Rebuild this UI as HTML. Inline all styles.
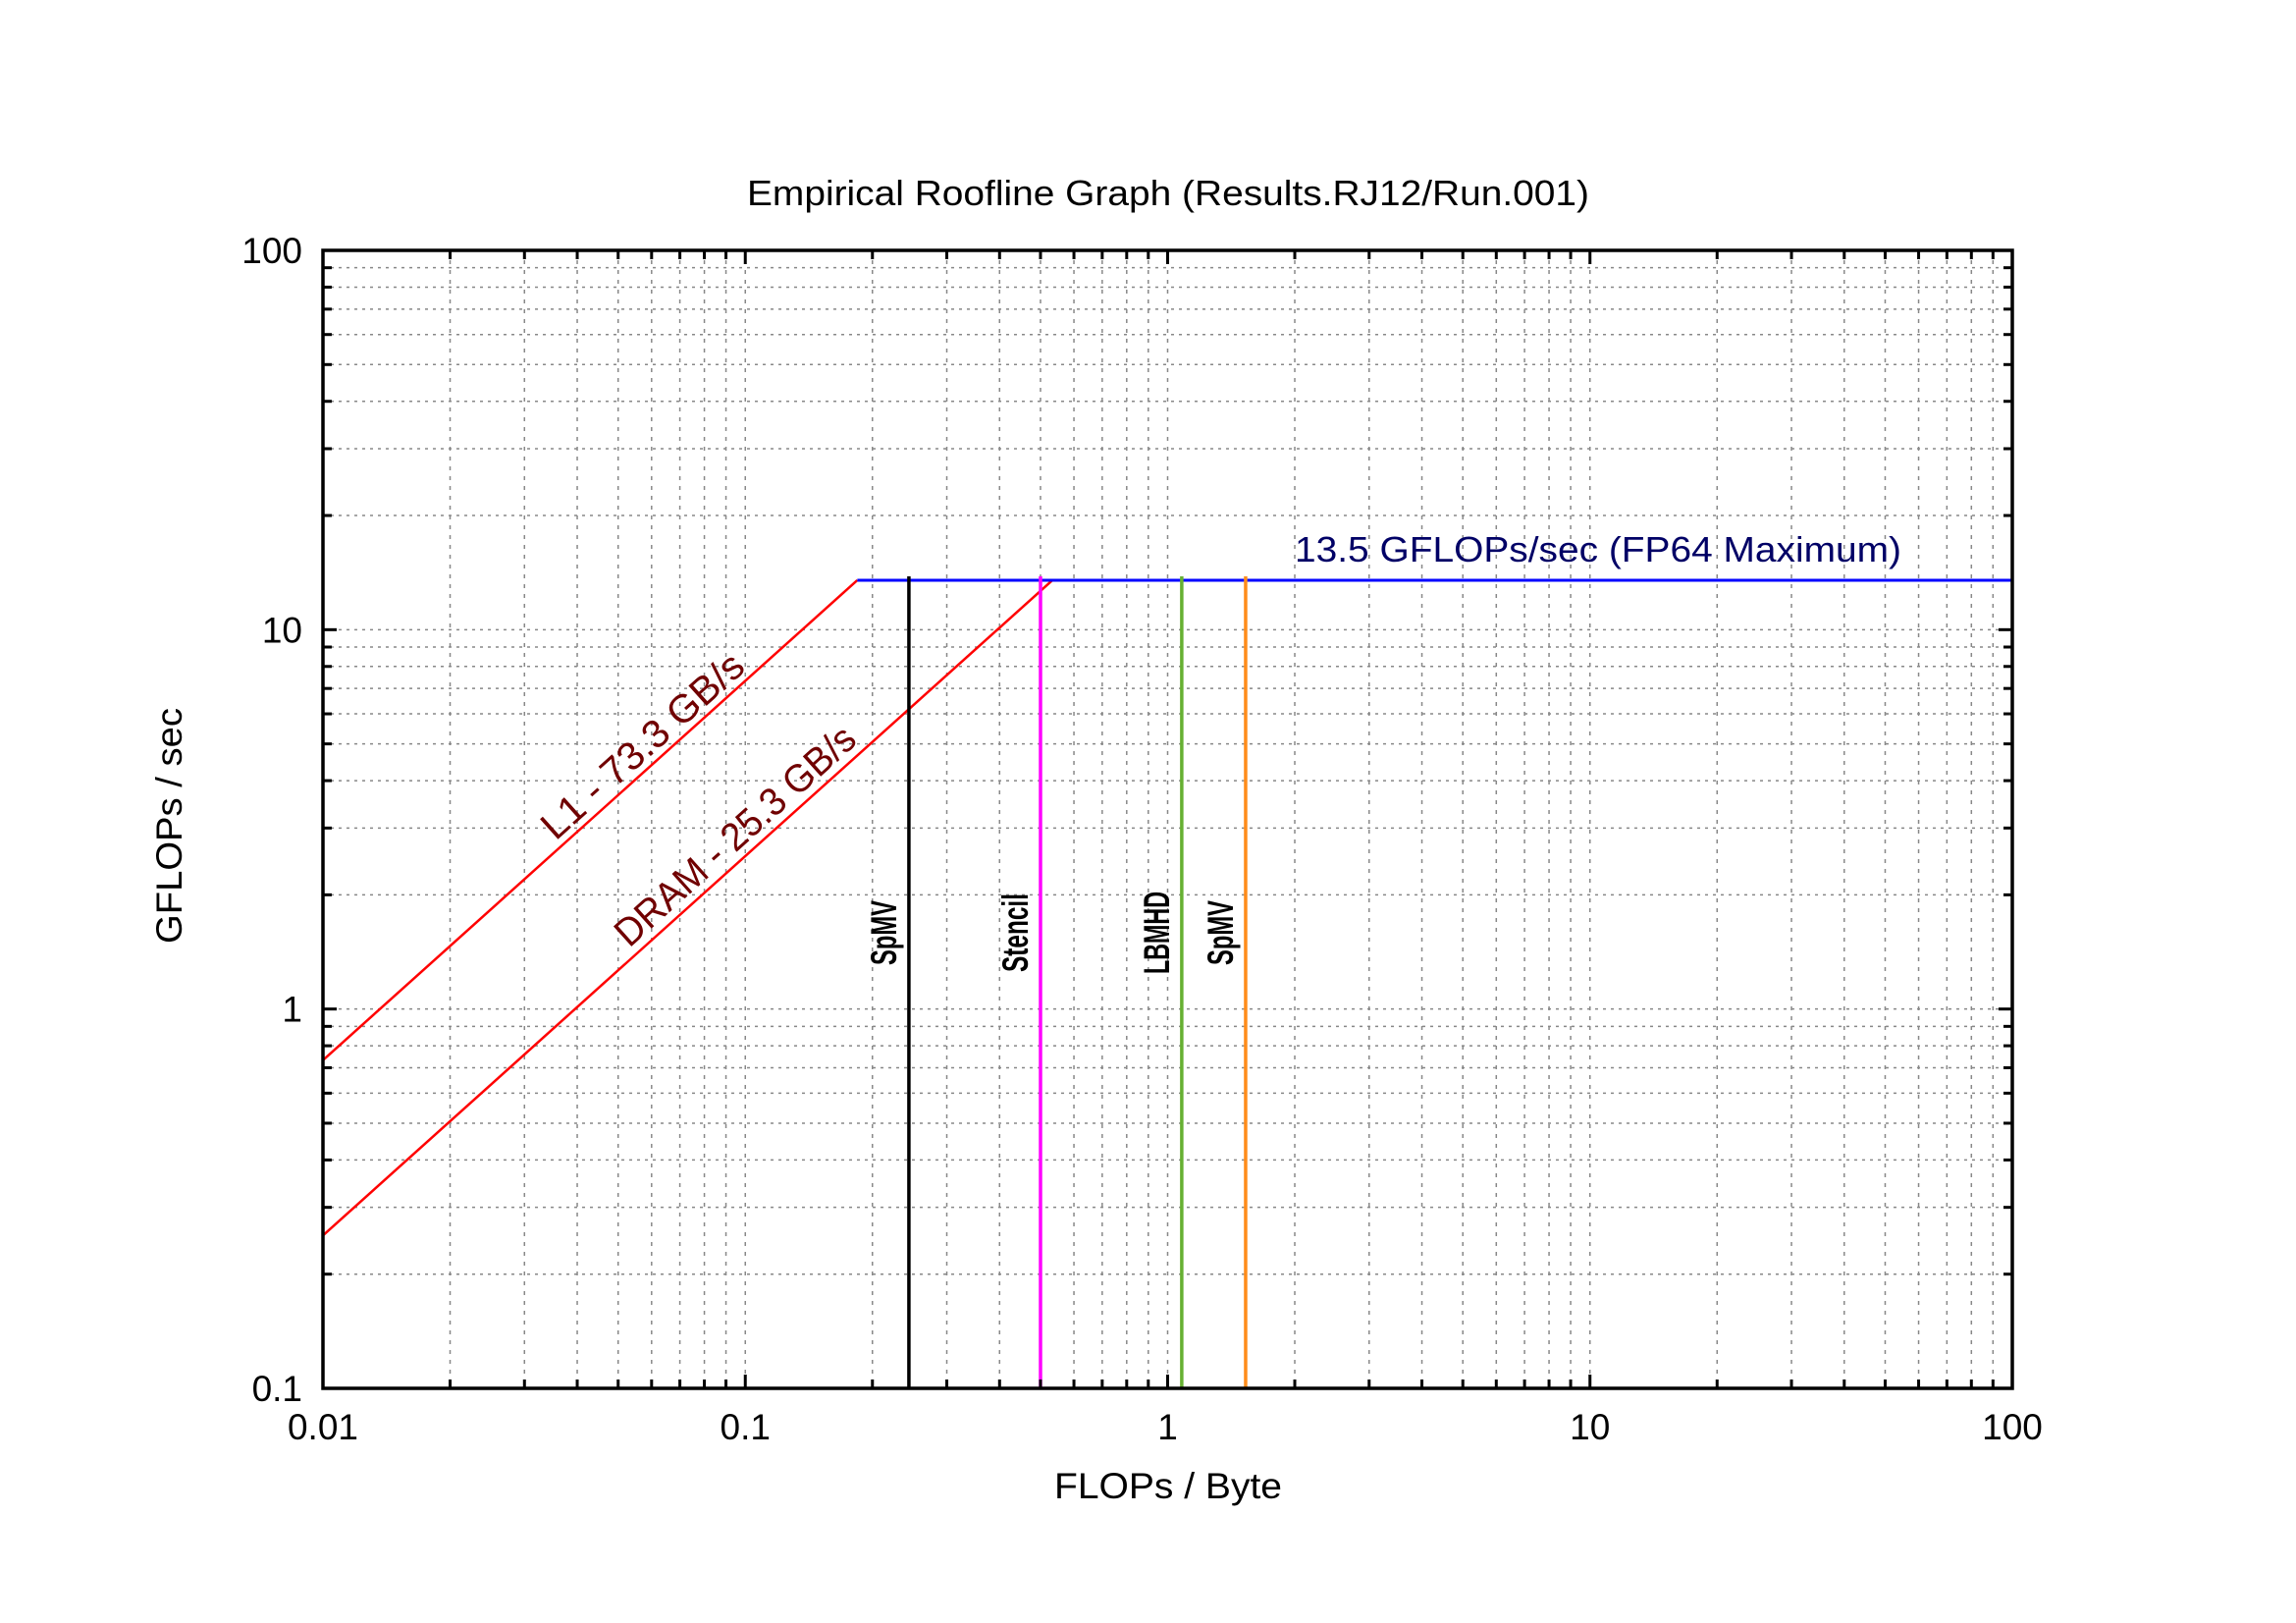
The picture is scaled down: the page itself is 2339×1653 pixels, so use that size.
<!DOCTYPE html>
<html><head><meta charset="utf-8"><style>
html,body{margin:0;padding:0;background:#fff;}
svg{display:block;font-family:"Liberation Sans",sans-serif;}
</style></head><body>
<svg id="chart" width="2339" height="1653" viewBox="0 0 2339 1653" xmlns="http://www.w3.org/2000/svg">
<rect width="2339" height="1653" fill="#fff"/>
<g id="grid"></g>
<g id="series"></g>
<g id="axes"></g>
<text x="761" y="209" font-size="36" textLength="858" lengthAdjust="spacingAndGlyphs">Empirical Roofline Graph (Results.RJ12/Run.001)</text>
<text x="1074" y="1526" font-size="37" textLength="232" lengthAdjust="spacingAndGlyphs">FLOPs / Byte</text>
<text x="0" y="0" font-size="37" text-anchor="middle" textLength="240" lengthAdjust="spacingAndGlyphs" transform="translate(185,841) rotate(-90)">GFLOPs / sec</text>
</svg>
<script>
var xTicks=[0.01,0.1,1,10,100];
var xTickLabels=["0.01","0.1","1","10","100"];
var yTicks=[0.1,1,10,100];
var yTickLabels=["0.1","1","10","100"];
var peakGflops=[13.5];
var peakLabel=["13.5 GFLOPs/sec (FP64 Maximum)"];
var bwNames=["L1 - 73.3 GB/s","DRAM - 25.3 GB/s"];
var bwValues=[73.3,25.3];
var kernelNames=["SpMV","Stencil","LBMHD","SpMV"];
var kernelIntensity=[0.244,0.5,1.08,1.53];
var kernelColors=["#000000","#ff00ff","#66b032","#ff8c1a"];

var L=329,R=2050,T=255,B=1414;
function sx(v){return L+(Math.log10(v)+2)/4*(R-L);}
function sy(v){return B-(Math.log10(v)+1)/3*(B-T);}
var NS="http://www.w3.org/2000/svg";
function mk(tag,parent,attrs){var e=document.createElementNS(NS,tag);for(var k in attrs)e.setAttribute(k,attrs[k]);parent.appendChild(e);return e;}
var grid=document.getElementById('grid'),axes=document.getElementById('axes'),ser=document.getElementById('series');

for(var d=-2;d<2;d++){for(var m=1;m<=9;m++){var v=m*Math.pow(10,d);if(v<=0.01)continue;var x=sx(v);
  if(v<100){var g=mk('line',grid,{x1:x,x2:x,y1:T,y2:B,stroke:'#888','stroke-width':1.5,'stroke-dasharray':'4,6'});
  
  }
  var len=(m==1)?14:9;
  mk('line',axes,{x1:x,x2:x,y1:B,y2:B-len,stroke:'#000','stroke-width':3});
  mk('line',axes,{x1:x,x2:x,y1:T,y2:T+len,stroke:'#000','stroke-width':3});
}}
for(var d=-1;d<2;d++){for(var m=1;m<=9;m++){var v=m*Math.pow(10,d);if(v<=0.1)continue;var y=sy(v);
  if(v<100){var g=mk('line',grid,{x1:L,x2:R,y1:y,y2:y,stroke:'#888','stroke-width':1.5,'stroke-dasharray':'3,5'});
  
  }
  var len=(m==1)?14:9;
  mk('line',axes,{x1:L,x2:L+len,y1:y,y2:y,stroke:'#000','stroke-width':3});
  mk('line',axes,{x1:R,x2:R-len,y1:y,y2:y,stroke:'#000','stroke-width':3});
}}
var frame=mk('rect',axes,{x:L,y:T,width:R-L,height:B-T,fill:'none',stroke:'#000','stroke-width':3.5});


xTicks.forEach(function(v,i){var t=mk('text',axes,{x:sx(v),y:1466,'font-size':37,'text-anchor':'middle'});t.textContent=xTickLabels[i];

});
yTicks.forEach(function(v,i){var t=mk('text',axes,{x:308,y:sy(v)+13,'font-size':37,'text-anchor':'end'});t.textContent=yTickLabels[i];

});

var peak=peakGflops[0];
bwValues.forEach(function(bw,i){var x0=0.01,x1=peak/bw;
 var l=mk('line',ser,{x1:sx(x0),y1:sy(bw*x0),x2:sx(x1),y2:sy(peak),stroke:'#ff0000','stroke-width':2.5});
 
 
});
var pl=mk('line',ser,{x1:sx(peak/bwValues[0]),y1:sy(peak),x2:R,y2:sy(peak),stroke:'#0000ff','stroke-width':3});


var pt=mk('text',ser,{x:1319,y:sy(peak)-19,'font-size':36,fill:'#000066',textLength:618,lengthAdjust:'spacingAndGlyphs'});
pt.textContent=peakLabel[0];


var ang=-Math.atan((B-T)/3/((R-L)/4))*180/Math.PI;
var bwLabelPos=[[566,857],[641,966]];
var bwLabelLen=[262,314];
bwNames.forEach(function(n,i){var t=mk('text',ser,{x:0,y:0,'font-size':40,fill:'#700000',textLength:bwLabelLen[i],lengthAdjust:'spacingAndGlyphs',transform:'translate('+bwLabelPos[i][0]+','+bwLabelPos[i][1]+') rotate('+ang+')'});t.textContent=n;

});
var kernelLabelLen=[66,80,84,66];
kernelIntensity.forEach(function(k,i){var x=sx(k);
 var l=mk('line',ser,{x1:x,x2:x,y1:B,y2:sy(peak)-4,stroke:kernelColors[i],'stroke-width':3.5});
 
 
 var t=mk('text',ser,{x:0,y:0,'font-size':37,'font-weight':'bold','text-anchor':'middle',fill:'#000',textLength:kernelLabelLen[i],lengthAdjust:'spacingAndGlyphs',transform:'translate('+(x-13)+',950) rotate(-90)'});
 t.textContent=kernelNames[i];
 
 
});
</script>
</body></html>
